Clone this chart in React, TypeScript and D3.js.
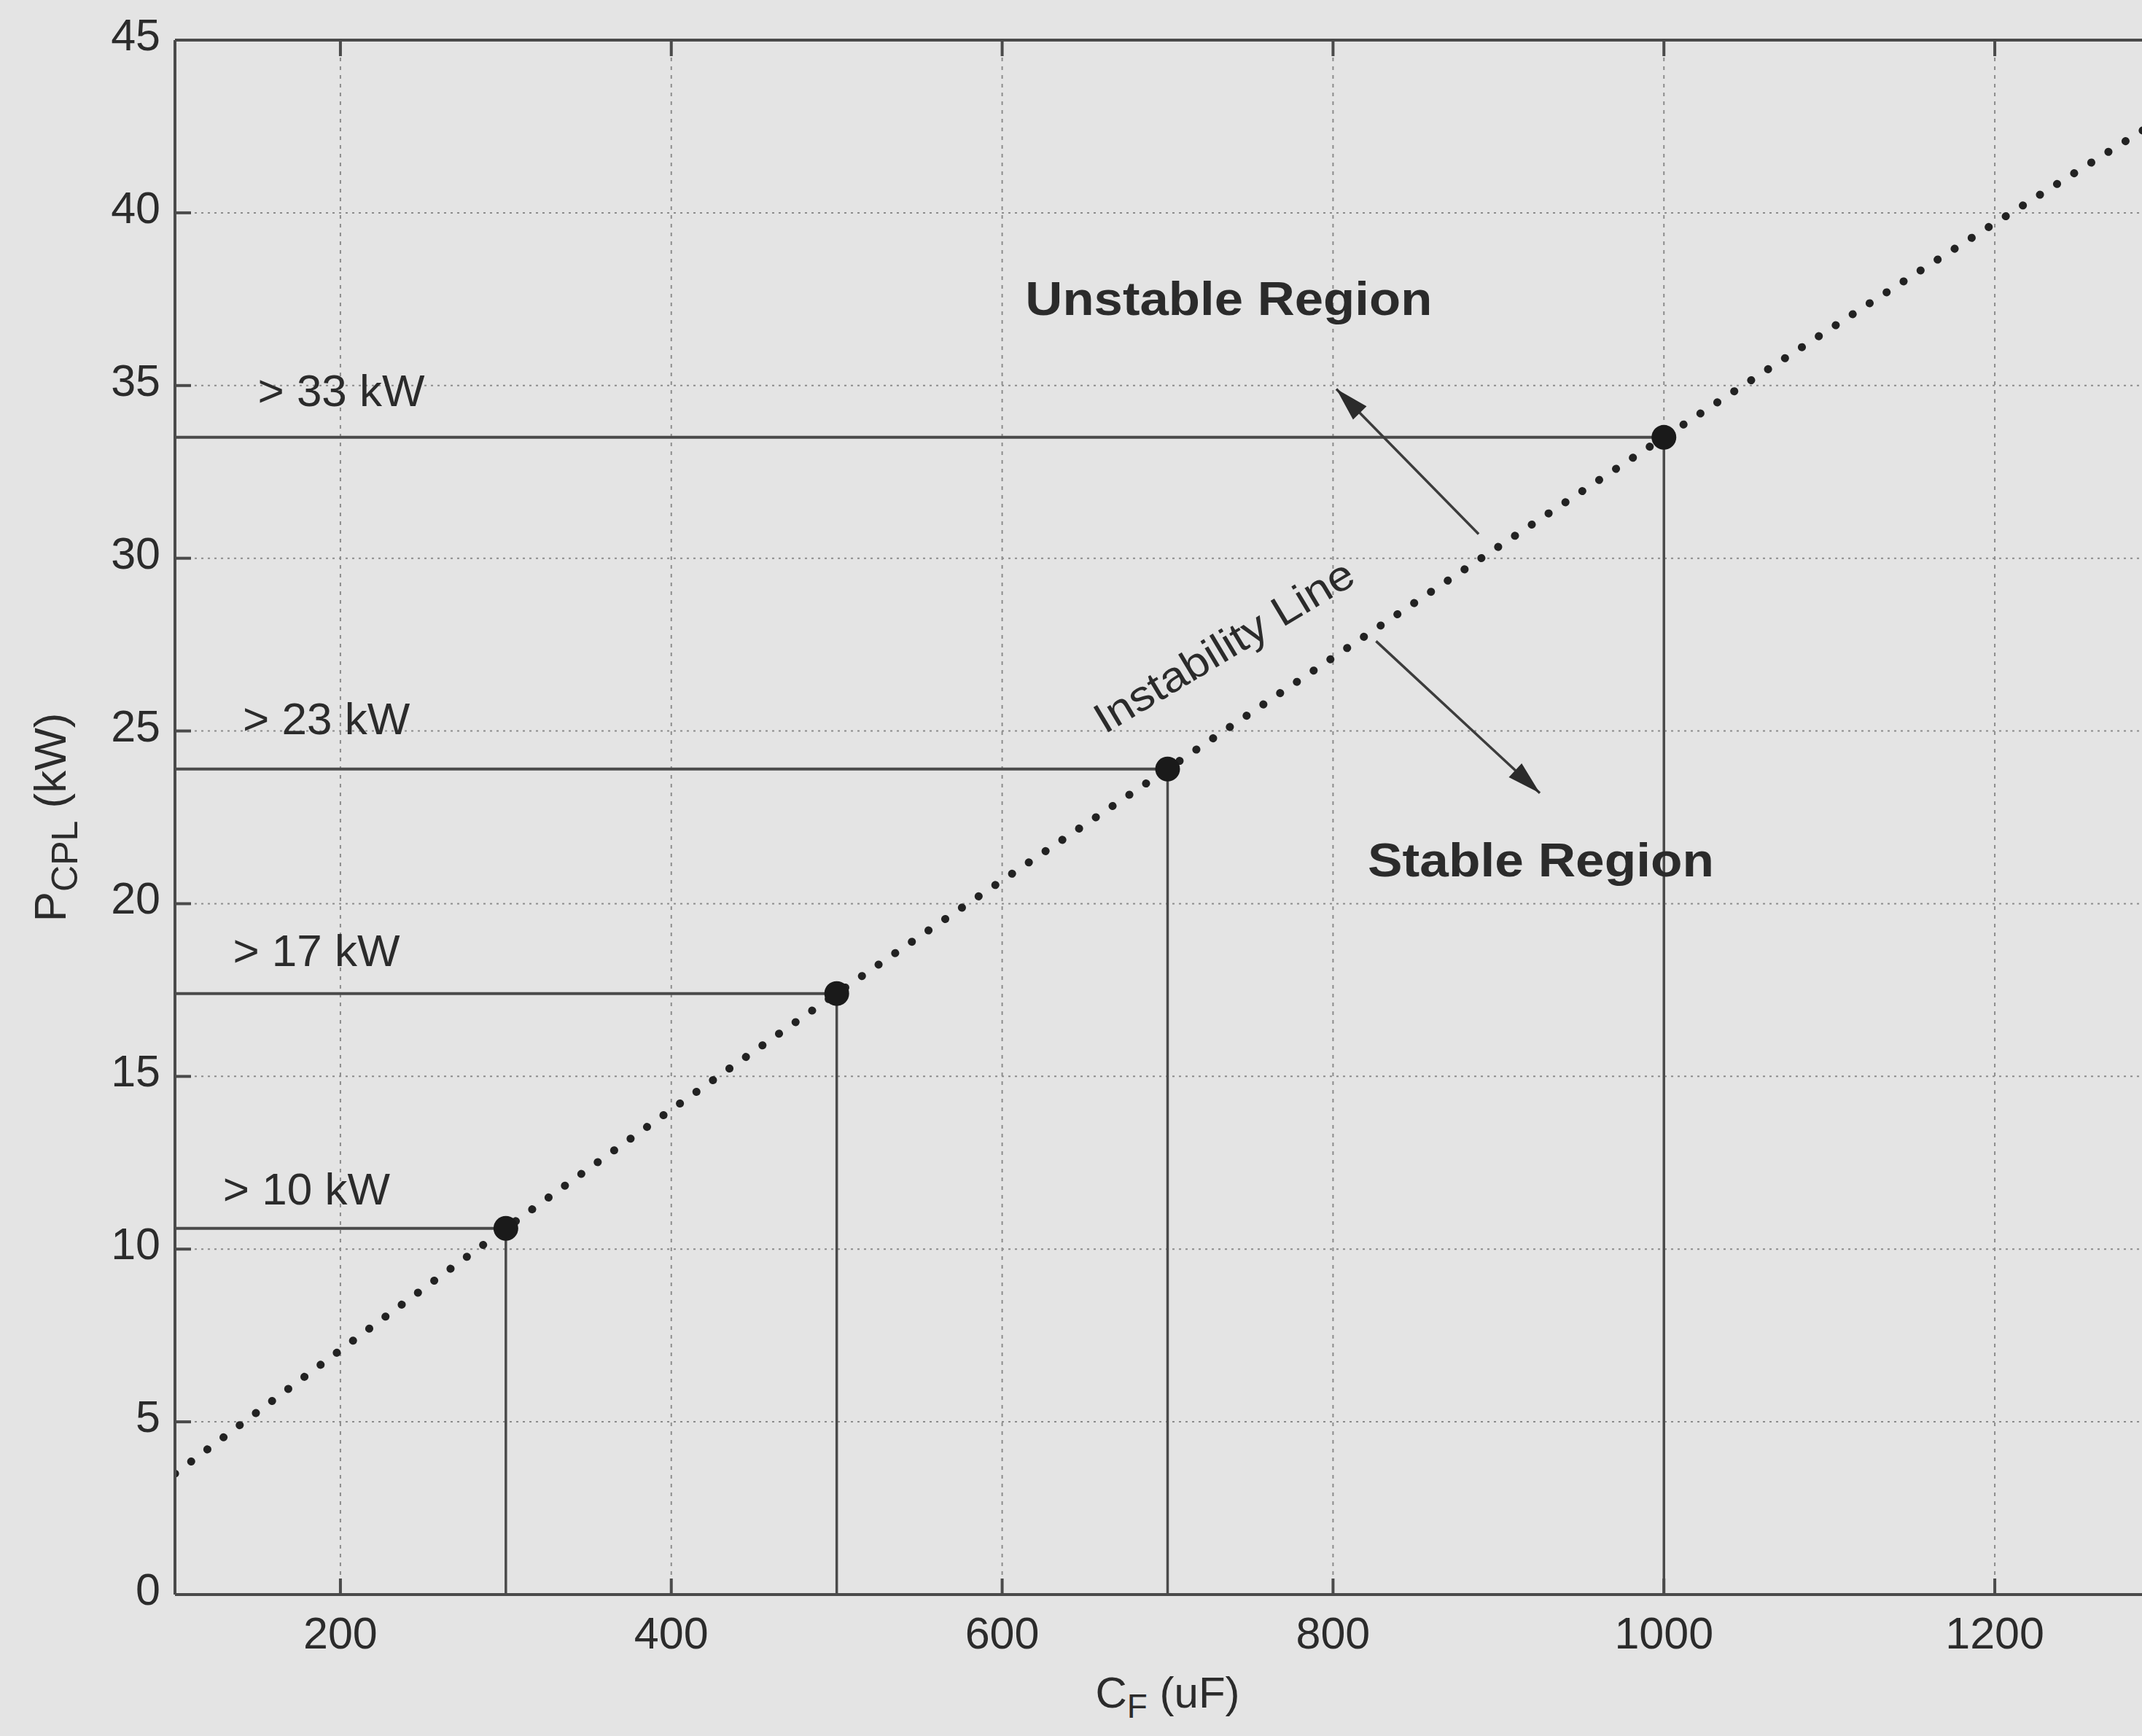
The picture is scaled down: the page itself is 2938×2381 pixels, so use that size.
import React from 'react'
import * as d3 from 'd3'

const W = 2938
const H = 2381

// axis ticks
const xTicks = [200, 400, 600, 800, 1000, 1200]
const yTicks = [0, 5, 10, 15, 20, 25, 30, 35, 40, 45]

// instability line (C_F in uF, P_CPL in kW)
const lineC = [100, 300, 500, 700, 1000, 1200, 1300]
const lineP = [3.5, 10.6, 17.4, 23.9, 33.5, 39.7, 42.7]

// operating points on the line
const markC = [300, 500, 700, 1000]
const markP = [10.6, 17.4, 23.9, 33.5]
const markLabels = ['> 10 kW', '> 17 kW', '> 23 kW', '> 33 kW']
const labelC = [129, 135, 141, 150]
const labelP = [11.3, 18.2, 24.9, 34.4]

const FONT = '"Liberation Sans", Arial, sans-serif'
const INK = '#2b2b2b'
const LINE = '#4a4a4a'

const arrowHead = (x1, y1, x2, y2, len = 46, half = 13) => {
  const a = Math.atan2(y2 - y1, x2 - x1)
  const bx = x2 - len * Math.cos(a)
  const by = y2 - len * Math.sin(a)
  const px = -Math.sin(a) * half
  const py = Math.cos(a) * half
  return `${x2},${y2} ${bx + px},${by + py} ${bx - px},${by - py}`
}

const App = () => {
  const x = d3.scaleLinear().domain([100, 1300]).range([240, 2963])
  const y = d3.scaleLinear().domain([0, 45]).range([2187, 55])

  const pts = lineC.map((c, i) => [c, lineP[i]])
  const line = d3.line()
    .x(d => x(d[0]))
    .y(d => y(d[1]))
    .curve(d3.curveMonotoneX)

  const x0 = x(100)
  const xEnd = W
  const yTop = y(45)
  const yBot = y(0)

  // annotation arrows (data coords)
  const up = [x(888), y(30.7), x(802), y(34.9)]
  const down = [x(826), y(27.6), x(925), y(23.2)]

  const instX = x(662)
  const instY = y(24.9)

  return (
    <svg width={W} height={H} style={{ position: 'absolute', left: 0, top: 0 }} fontFamily={FONT}>
      <rect width={W} height={H} fill="#e4e4e4" />
      <defs>
        <clipPath id="plot">
          <rect x={x0} y={yTop} width={xEnd - x0} height={yBot - yTop} />
        </clipPath>
      </defs>

      {/* grid */}
      <g stroke="#8c8c8c" strokeWidth={2}>
        {yTicks.slice(1, -1).map(t => (
          <line key={'gy' + t} x1={x0} x2={xEnd} y1={y(t)} y2={y(t)} strokeDasharray="3 6" />
        ))}
        {xTicks.map(t => (
          <line key={'gx' + t} x1={x(t)} x2={x(t)} y1={yTop} y2={yBot} strokeDasharray="5 7" />
        ))}
      </g>

      {/* drop lines */}
      <g stroke={LINE} strokeWidth={4}>
        {markC.map((c, i) => (
          <g key={'d' + c}>
            <line x1={x0} x2={x(c)} y1={y(markP[i])} y2={y(markP[i])} />
            <line x1={x(c)} x2={x(c)} y1={y(markP[i])} y2={yBot} strokeWidth={3.5} />
          </g>
        ))}
      </g>

      {/* instability line */}
      <path
        d={line(pts)}
        fill="none"
        stroke="#222"
        strokeWidth={11}
        strokeLinecap="round"
        strokeDasharray="0.1 27.6"
        clipPath="url(#plot)"
      />
      {markC.map((c, i) => (
        <circle key={'m' + c} cx={x(c)} cy={y(markP[i])} r={17} fill="#1a1a1a" />
      ))}

      {/* axes frame */}
      <g stroke={LINE} strokeWidth={4} fill="none">
        <line x1={x0} x2={x0} y1={yTop} y2={yBot} />
        <line x1={x0} x2={xEnd} y1={yBot} y2={yBot} />
        <line x1={x0} x2={xEnd} y1={yTop} y2={yTop} />
        {yTicks.map(t => (
          <line key={'ty' + t} x1={x0} x2={x0 + 22} y1={y(t)} y2={y(t)} />
        ))}
        {xTicks.map(t => (
          <g key={'tx' + t}>
            <line x1={x(t)} x2={x(t)} y1={yBot} y2={yBot - 22} />
            <line x1={x(t)} x2={x(t)} y1={yTop} y2={yTop + 22} />
          </g>
        ))}
      </g>

      {/* tick labels */}
      <g fill={INK} fontSize={61}>
        {yTicks.map(t => (
          <text key={'ly' + t} x={x0 - 20} y={y(t) + 14} textAnchor="end">{t}</text>
        ))}
        {xTicks.map(t => (
          <text key={'lx' + t} x={x(t)} y={yBot + 74} textAnchor="middle">{t}</text>
        ))}
      </g>

      {/* axis titles */}
      <text x={x(700)} y={2342} textAnchor="middle" fontSize={60} fill={INK}>
        C<tspan fontSize={46} dy={14}>F</tspan><tspan dy={-14}> (uF)</tspan>
      </text>
      <text transform={`translate(90, ${y(22.5)}) rotate(-90)`} textAnchor="middle" fontSize={62} fill={INK}>
        P<tspan fontSize={50} dy={16}>CPL</tspan><tspan dy={-16}> (kW)</tspan>
      </text>

      {/* level labels */}
      <g fill={INK} fontSize={62}>
        {markLabels.map((l, i) => (
          <text key={l} x={x(labelC[i])} y={y(labelP[i])}>{l}</text>
        ))}
      </g>

      {/* region annotations */}
      <text x={x(614)} y={y(37.05)} fontSize={65} fontWeight="bold" fill={INK} textLength={558} lengthAdjust="spacingAndGlyphs">
        Unstable Region
      </text>
      <text x={x(821)} y={y(20.8)} fontSize={65} fontWeight="bold" fill={INK} textLength={475} lengthAdjust="spacingAndGlyphs">
        Stable Region
      </text>
      <text
        transform={`translate(${instX}, ${instY}) rotate(-31)`}
        fontSize={58}
        fill={INK}
        textLength={405}
        lengthAdjust="spacingAndGlyphs"
      >
        Instability Line
      </text>

      <g stroke="#3c3c3c" strokeWidth={3.5}>
        <line x1={up[0]} y1={up[1]} x2={up[2]} y2={up[3]} />
        <line x1={down[0]} y1={down[1]} x2={down[2]} y2={down[3]} />
      </g>
      <polygon points={arrowHead(up[0], up[1], up[2], up[3])} fill="#2b2b2b" />
      <polygon points={arrowHead(down[0], down[1], down[2], down[3])} fill="#2b2b2b" />
    </svg>
  )
}

export default App
